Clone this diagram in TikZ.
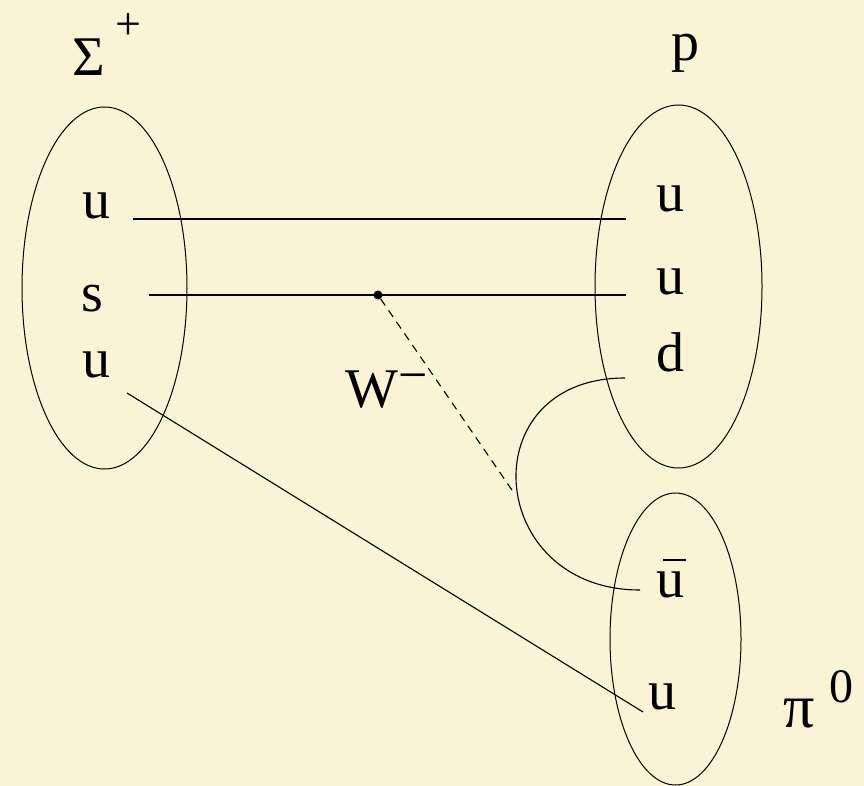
\documentclass[tikz,border=0pt]{standalone}
\usepackage{fontspec}
\setmainfont{Liberation Serif}
\usetikzlibrary{shapes.geometric}
\definecolor{bgcream}{RGB}{250,243,214}
\begin{document}
\begin{tikzpicture}[x=1pt,y=-1pt,
  hadron/.style={draw, ellipse, line width=1pt, inner sep=0pt},
  quark/.style={inner sep=0pt, font=\fontsize{56}{60}\selectfont},
  supl/.style={inner sep=0pt, font=\fontsize{40}{44}\selectfont},
  qline/.style={line width=1.1pt},
  wline/.style={line width=1.1pt, dash pattern=on 8pt off 6pt}]
\fill[bgcream] (0,0) rectangle (864,786);
\useasboundingbox (0,0) rectangle (864,786);
% hadron ellipses
\node[hadron, minimum width=165pt, minimum height=362pt] (sigmaE) at (104.5,288) {};
\node[hadron, minimum width=167pt, minimum height=363pt] (protonE) at (678.5,286.5) {};
\node[hadron, minimum width=131pt, minimum height=292pt] (pionE) at (675.5,639) {};
% labels
\node[quark] (Sigma) at (89,57) {Σ};
\node[supl, font=\fontsize{46}{50}\selectfont] (SigmaPlus) at (128,27) {+};
\node[quark, font=\fontsize{62}{66}\selectfont] (pi) at (799,714) {π};
\node[quark] (p) at (685,53) {p};
\node[supl, font=\fontsize{48}{52}\selectfont] (piZero) at (841,687) {0};
\node[quark] (W) at (372,390) {W};
\node[supl, font=\fontsize{52}{56}\selectfont] (Wminus) at (413,383) {−};
% quarks
\node[quark] (su1) at (96,206) {u};
\node[quark] (ss) at (92,299) {s};
\node[quark] (su2) at (96,365) {u};
\node[quark] (pu1) at (670,199) {u};
\node[quark] (pu2) at (670,282) {u};
\node[quark] (pd) at (670,352) {d};
\node[quark] (piubar) at (670,585) {u};
\draw[line width=1.2pt] (663,560) -- (686,560);
\node[quark] (piu) at (662,697) {u};
% line ends
\coordinate (a1) at (133,219);
\coordinate (b1) at (626,219);
\coordinate (a2) at (149,295);
\coordinate (b2) at (626,295);
\coordinate (a3) at (127,393);
\coordinate (b3) at (643,712);
\coordinate (c1) at (625,378);
\coordinate (c2) at (640,590);
\coordinate (wend) at (514,493);
% quark lines
\draw[qline] (a1) -- (b1);
\draw[qline] (a2) -- (b2);
\draw[qline] (a3) -- (b3);
\draw[qline] (c1) .. controls (470,378) and (485,590) .. (c2);
% W vertex
\node[circle, fill=black, inner sep=0pt, minimum size=9pt] (vtx) at (378,295) {};
\draw[wline] (vtx) -- (wend);
\end{tikzpicture}
\end{document}
